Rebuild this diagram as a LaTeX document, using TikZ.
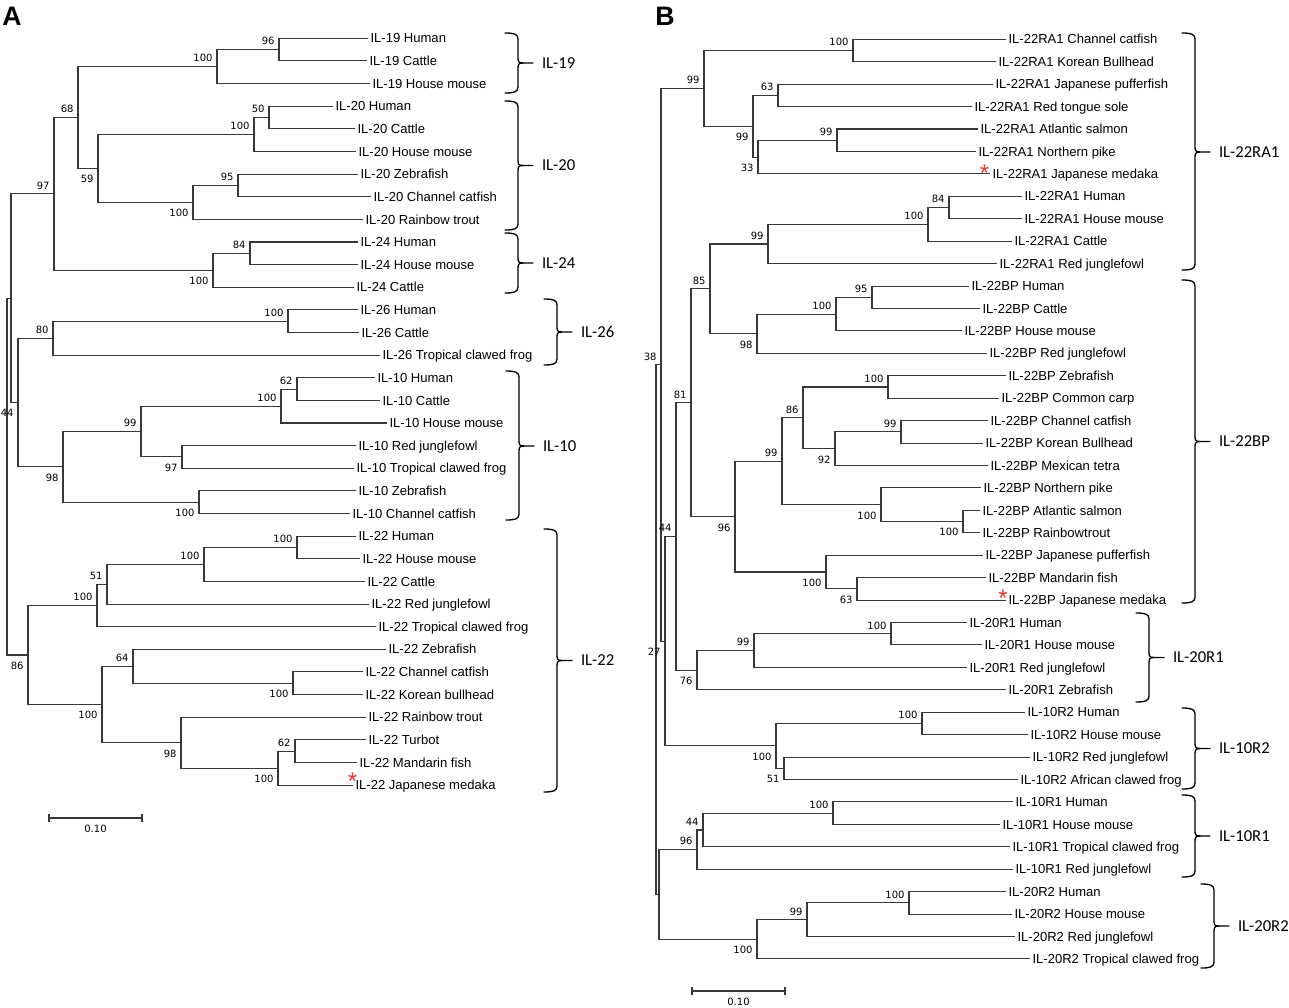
\documentclass[tikz,border=0pt]{standalone}
\usepackage{fontspec}
\usetikzlibrary{calc}
\newfontfamily\leaffont{Liberation Sans}
\newfontfamily\bsfont{DejaVu Sans}
\newfontfamily\grpfont{Carlito}
\definecolor{astred}{RGB}{238,50,50}
\tikzset{
 brline/.style={line width=0.8pt, draw=black!78},
 braceline/.style={line width=1pt, draw=black, line cap=round, line join=round},
 lftext/.style={font=\leaffont\fontsize{9.8}{11}\selectfont, anchor=west, inner sep=0pt, outer sep=0pt, text height=7pt, text depth=0pt},
 bstext/.style={font=\bsfont\fontsize{7.5}{8}\selectfont, inner sep=0pt, outer sep=0pt},
 grptext/.style={font=\grpfont\fontsize{12.5}{14}\selectfont, anchor=west, inner sep=0pt, outer sep=0pt, text height=8pt, text depth=0pt},
 asttext/.style={font=\leaffont\fontsize{18}{18}\selectfont, text=astred, inner sep=0pt, anchor=base},
 ttltext/.style={font=\leaffont\bfseries\fontsize{20}{22}\selectfont, anchor=base west, inner sep=0pt}
}
% leaves
\newcommand\lfA[4]{\coordinate (#1) at (#2,{38.3+22.63*#3}); \node[lftext] (t#1) at ($(#1)+(2.5,0)$) {#4};}
\newcommand\lfB[4]{\coordinate (#1) at (#2,{39.3+22.43*#3}); \node[lftext] (t#1) at ($(#1)+(2.5,0)$) {#4};}
% internal node: name, x, child1, child2
\newcommand\tn[4]{\coordinate (m#1) at ($(#3)!0.5!(#4)$); \coordinate (x#1) at (#2,0); \coordinate (#1) at (x#1 |- m#1); \draw[brline] (#3) -- (#3 -| #1) -- (#4 -| #1) -- (#4);}
% bootstrap labels
\newcommand\ba[2]{\node[bstext, anchor=south east] (l#1) at ($(#1)+(-4.5,-4.5)$) {#2};}
\newcommand\bb[2]{\node[bstext, anchor=north east] (l#1) at ($(#1)+(-4.5,7)$) {#2};}
% brace: name, xv, ytop, ybot, ymid, label
\newcommand\brc[6]{%
 \draw[braceline] ({#2-13},#3) .. controls ({#2-4},#3) and (#2,{#3+1}) .. (#2,{#3+6}) -- (#2,{#5-5}) .. controls (#2,{#5-1}) and ({#2+1},#5) .. ({#2+5},#5) -- ({#2+15},#5);
 \draw[braceline] ({#2+5},#5) .. controls ({#2+1},#5) and (#2,{#5+1}) .. (#2,{#5+5}) -- (#2,{#4-6}) .. controls (#2,{#4-1}) and ({#2-4},#4) .. ({#2-13},#4);
 \node[grptext] (#1) at ({#2+24},#5) {#6};}
\begin{document}
\begin{tikzpicture}[x=0.75pt,y=-0.75pt]
\useasboundingbox (0,0) rectangle (1289,1007);
\node[ttltext] (pA) at (2,25) {A};
\node[ttltext] (pB) at (655,25) {B};
% ================= Panel A =================
\lfA{a0}{368}{0}{IL-19 Human}
\lfA{a1}{367}{1}{IL-19 Cattle}
\lfA{a2}{370}{2}{IL-19 House mouse}
\lfA{a3}{333}{3}{IL-20 Human}
\lfA{a4}{355}{4}{IL-20 Cattle}
\lfA{a5}{356}{5}{IL-20 House mouse}
\lfA{a6}{358}{6}{IL-20 Zebrafish}
\lfA{a7}{371}{7}{IL-20 Channel catfish}
\lfA{a8}{363}{8}{IL-20 Rainbow trout}
\lfA{a9}{358}{9}{IL-24 Human}
\lfA{a10}{358}{10}{IL-24 House mouse}
\lfA{a11}{354}{11}{IL-24 Cattle}
\lfA{a12}{358}{12}{IL-26 Human}
\lfA{a13}{359}{13}{IL-26 Cattle}
\lfA{a14}{380}{14}{IL-26 Tropical clawed frog}
\lfA{a15}{375}{15}{IL-10 Human}
\lfA{a16}{380}{16}{IL-10 Cattle}
\lfA{a17}{387}{17}{IL-10 House mouse}
\lfA{a18}{356}{18}{IL-10 Red junglefowl}
\lfA{a19}{354}{19}{IL-10 Tropical clawed frog}
\lfA{a20}{356}{20}{IL-10 Zebrafish}
\lfA{a21}{350}{21}{IL-10 Channel catfish}
\lfA{a22}{356}{22}{IL-22 Human}
\lfA{a23}{360}{23}{IL-22 House mouse}
\lfA{a24}{365}{24}{IL-22 Cattle}
\lfA{a25}{369}{25}{IL-22 Red junglefowl}
\lfA{a26}{376}{26}{IL-22 Tropical clawed frog}
\lfA{a27}{386}{27}{IL-22 Zebrafish}
\lfA{a28}{363}{28}{IL-22 Channel catfish}
\lfA{a29}{363}{29}{IL-22 Korean bullhead}
\lfA{a30}{366}{30}{IL-22 Rainbow trout}
\lfA{a31}{366}{31}{IL-22 Turbot}
\lfA{a32}{357}{32}{IL-22 Mandarin fish}
\lfA{a33}{353}{33}{IL-22 Japanese medaka}
\tn{nA96}{279}{a0}{a1}
\tn{nA100a}{217}{nA96}{a2}
\tn{nA50}{269}{a3}{a4}
\tn{nA100b}{254}{nA50}{a5}
\tn{nA95}{238}{a6}{a7}
\tn{nA100c}{193}{nA95}{a8}
\tn{nA59}{98}{nA100b}{nA100c}
\tn{nA68}{78}{nA100a}{nA59}
\tn{nA84}{250}{a9}{a10}
\tn{nA100d}{213}{nA84}{a11}
\tn{nA97}{54}{nA68}{nA100d}
\tn{nA100e}{288}{a12}{a13}
\tn{nA80}{53}{nA100e}{a14}
\tn{nA62}{297}{a15}{a16}
\tn{nA100f}{281}{nA62}{a17}
\tn{nA97b}{182}{a18}{a19}
\tn{nA99}{141}{nA100f}{nA97b}
\tn{nA100g}{199}{a20}{a21}
\tn{nA98}{63}{nA99}{nA100g}
\tn{nA18}{18}{nA80}{nA98}
\tn{nA44}{11}{nA97}{nA18}
\tn{nA100h}{297}{a22}{a23}
\tn{nA100i}{204}{nA100h}{a24}
\tn{nA51}{107}{nA100i}{a25}
\tn{nA100j}{97}{nA51}{a26}
\tn{nA100k}{293}{a28}{a29}
\tn{nA64}{133}{a27}{nA100k}
\tn{nA62b}{295}{a31}{a32}
\tn{nA100l}{278}{nA62b}{a33}
\tn{nA98b}{181}{a30}{nA100l}
\tn{nA100m}{102}{nA64}{nA98b}
\tn{nA86}{28}{nA100j}{nA100m}
\tn{nArt}{7}{nA44}{nA86}
\ba{nA96}{96} \ba{nA100a}{100} \ba{nA50}{50} \ba{nA100b}{100} \ba{nA95}{95}
\ba{nA68}{68} \ba{nA84}{84} \ba{nA97}{97} \ba{nA100e}{100} \ba{nA80}{80}
\ba{nA62}{62} \ba{nA100f}{100} \ba{nA99}{99} \ba{nA100h}{100} \ba{nA100i}{100}
\ba{nA51}{51} \ba{nA100j}{100} \ba{nA64}{64} \ba{nA62b}{62}
\bb{nA100c}{100} \bb{nA59}{59} \bb{nA100d}{100} \bb{nA97b}{97} \bb{nA100g}{100}
\bb{nA98}{98} \bb{nA18}{44} \bb{nA100k}{100} \bb{nA100l}{100} \bb{nA98b}{98}
\bb{nA100m}{100} \bb{nA86}{86}
\node[asttext] (astA) at (352.5,789.5) {*};
\brc{gA19}{518}{33}{93}{63}{IL-19}
\brc{gA20}{518}{101}{230}{165.5}{IL-20}
\brc{gA24}{518}{233}{293}{263}{IL-24}
\brc{gA26}{557}{299}{365}{332}{IL-26}
\brc{gA10}{519}{371}{520}{446}{IL-10}
\brc{gA22}{557}{529}{792}{660.5}{IL-22}
\coordinate (sA1) at (49,818);
\coordinate (sA2) at (142,818);
\draw[brline] (sA1) -- (sA2);
\draw[brline] ($(sA1)+(0,-4)$) -- ($(sA1)+(0,4)$);
\draw[brline] ($(sA2)+(0,-4)$) -- ($(sA2)+(0,4)$);
\node[bstext] (sAl) at (95.5,829) {0.10};
% ================= Panel B =================
\lfB{b0}{1006}{0}{IL-22RA1 Channel catfish}
\lfB{b1}{996}{1}{IL-22RA1 Korean Bullhead}
\lfB{b2}{993}{2}{IL-22RA1 Japanese pufferfish}
\lfB{b3}{972}{3}{IL-22RA1 Red tongue sole}
\lfB{b4}{978}{4}{IL-22RA1 Atlantic salmon}
\lfB{b5}{976}{5}{IL-22RA1 Northern pike}
\lfB{b6}{990}{6}{IL-22RA1 Japanese medaka}
\lfB{b7}{1022}{7}{IL-22RA1 Human}
\lfB{b8}{1022}{8}{IL-22RA1 House mouse}
\lfB{b9}{1012}{9}{IL-22RA1 Cattle}
\lfB{b10}{997}{10}{IL-22RA1 Red junglefowl}
\lfB{b11}{969}{11}{IL-22BP Human}
\lfB{b12}{980}{12}{IL-22BP Cattle}
\lfB{b13}{962}{13}{IL-22BP House mouse}
\lfB{b14}{987}{14}{IL-22BP Red junglefowl}
\lfB{b15}{1006}{15}{IL-22BP Zebrafish}
\lfB{b16}{999}{16}{IL-22BP Common carp}
\lfB{b17}{988}{17}{IL-22BP Channel catfish}
\lfB{b18}{983}{18}{IL-22BP Korean Bullhead}
\lfB{b19}{988}{19}{IL-22BP Mexican tetra}
\lfB{b20}{981}{20}{IL-22BP Northern pike}
\lfB{b21}{980}{21}{IL-22BP Atlantic salmon}
\lfB{b22}{980}{22}{IL-22BP Rainbowtrout}
\lfB{b23}{983}{23}{IL-22BP Japanese pufferfish}
\lfB{b24}{986}{24}{IL-22BP Mandarin fish}
\lfB{b25}{1006}{25}{IL-22BP Japanese medaka}
\lfB{b26}{967}{26}{IL-20R1 Human}
\lfB{b27}{982}{27}{IL-20R1 House mouse}
\lfB{b28}{967}{28}{IL-20R1 Red junglefowl}
\lfB{b29}{1006}{29}{IL-20R1 Zebrafish}
\lfB{b30}{1025}{30}{IL-10R2 Human}
\lfB{b31}{1028}{31}{IL-10R2 House mouse}
\lfB{b32}{1030}{32}{IL-10R2 Red junglefowl}
\lfB{b33}{1018}{33}{IL-10R2 African clawed frog}
\lfB{b34}{1013}{34}{IL-10R1 Human}
\lfB{b35}{1000}{35}{IL-10R1 House mouse}
\lfB{b36}{1010}{36}{IL-10R1 Tropical clawed frog}
\lfB{b37}{1013}{37}{IL-10R1 Red junglefowl}
\lfB{b38}{1006}{38}{IL-20R2 Human}
\lfB{b39}{1012}{39}{IL-20R2 House mouse}
\lfB{b40}{1015}{40}{IL-20R2 Red junglefowl}
\lfB{b41}{1030}{41}{IL-20R2 Tropical clawed frog}
\tn{nB100a}{853}{b0}{b1}
\tn{nB63}{778}{b2}{b3}
\tn{nB99c}{837}{b4}{b5}
\tn{nB33}{758}{nB99c}{b6}
\tn{nB99b}{753}{nB63}{nB33}
\tn{nB99a}{704}{nB100a}{nB99b}
\tn{nB84}{949}{b7}{b8}
\tn{nB100b}{928}{nB84}{b9}
\tn{nB99d}{768}{nB100b}{b10}
\tn{nB95}{872}{b11}{b12}
\tn{nB100c}{836}{nB95}{b13}
\tn{nB98}{757}{nB100c}{b14}
\tn{nB85}{710}{nB99d}{nB98}
\tn{nB100d}{888}{b15}{b16}
\tn{nB99e}{901}{b17}{b18}
\tn{nB92}{835}{nB99e}{b19}
\tn{nB86}{803}{nB100d}{nB92}
\tn{nB100e}{963}{b21}{b22}
\tn{nB100f}{881}{b20}{nB100e}
\tn{nB99f}{782}{nB86}{nB100f}
\tn{nB63b}{857}{b24}{b25}
\tn{nB100g}{826}{b23}{nB63b}
\tn{nB96}{735}{nB99f}{nB100g}
\tn{nB81}{691}{nB85}{nB96}
\tn{nB100h}{891}{b26}{b27}
\tn{nB99g}{754}{nB100h}{b28}
\tn{nB76}{697}{nB99g}{b29}
\tn{nB44}{676}{nB81}{nB76}
\tn{nB100i}{922}{b30}{b31}
\tn{nB51}{784}{b32}{b33}
\tn{nB100j}{776}{nB100i}{nB51}
\tn{nBX}{665}{nB44}{nB100j}
\tn{nBY}{661}{nB99a}{nBX}
\tn{nB100l}{833}{b34}{b35}
\tn{nB44b}{703}{nB100l}{b36}
\tn{nB96b}{697}{nB44b}{b37}
\tn{nB100m}{909}{b38}{b39}
\tn{nB99h}{807}{nB100m}{b40}
\tn{nB100n}{757}{nB99h}{b41}
\tn{nBW}{659}{nB96b}{nB100n}
\tn{nBrt}{656}{nBY}{nBW}
\ba{nB100a}{100} \ba{nB99a}{99} \ba{nB63}{63} \ba{nB99c}{99} \ba{nB84}{84}
\ba{nB100b}{100} \ba{nB99d}{99} \ba{nB85}{85} \ba{nB95}{95} \ba{nB100c}{100}
\ba{nB81}{81} \ba{nB100d}{100} \ba{nB86}{86} \ba{nB99e}{99} \ba{nB99f}{99}
\ba{nBY}{38} \ba{nB44}{44} \ba{nB100h}{100} \ba{nB99g}{99} \ba{nB100i}{100}
\ba{nB100l}{100} \ba{nB44b}{44} \ba{nB96b}{96} \ba{nB100m}{100} \ba{nB99h}{99}
\bb{nB99b}{99} \bb{nB33}{33} \bb{nB98}{98} \bb{nB92}{92} \bb{nB100f}{100}
\bb{nB100e}{100} \bb{nB96}{96} \bb{nB100g}{100} \bb{nB63b}{63} \bb{nBX}{27}
\bb{nB76}{76} \bb{nB100j}{100} \bb{nB51}{51} \bb{nB100n}{100}
\node[asttext] (astB1) at (984.5,181.5) {*};
\node[asttext] (astB2) at (1003,606) {*};
\brc{gB22RA1}{1195}{33}{270}{152}{IL-22RA1}
\brc{gB22BP}{1195}{280}{603}{441.5}{IL-22BP}
\brc{gB20R1}{1149}{613}{702}{657.5}{IL-20R1}
\brc{gB10R2}{1195}{708}{789}{748.5}{IL-10R2}
\brc{gB10R1}{1195}{795}{877}{836}{IL-10R1}
\brc{gB20R2}{1214}{884}{968}{926}{IL-20R2}
\coordinate (sB1) at (692,991);
\coordinate (sB2) at (785,991);
\draw[brline] (sB1) -- (sB2);
\draw[brline] ($(sB1)+(0,-4)$) -- ($(sB1)+(0,4)$);
\draw[brline] ($(sB2)+(0,-4)$) -- ($(sB2)+(0,4)$);
\node[bstext] (sBl) at (738.5,1002) {0.10};
\end{tikzpicture}
\end{document}
